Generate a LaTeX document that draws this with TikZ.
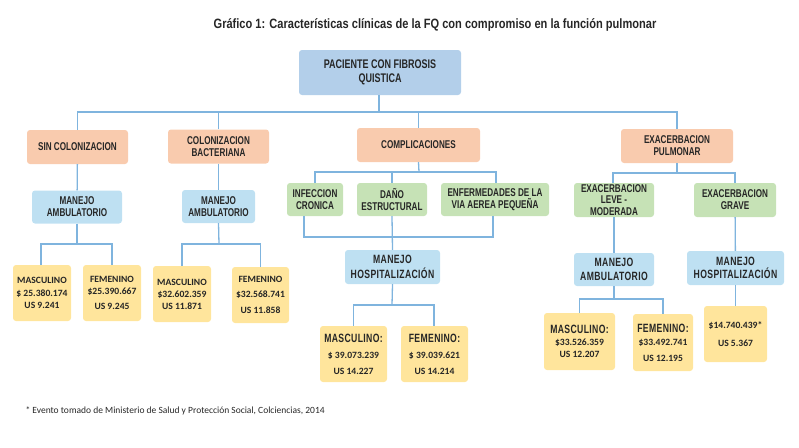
\documentclass[tikz,border=0pt]{standalone}
\usepackage{fontspec}
\setmainfont{Liberation Sans}
\newfontfamily\narf{Liberation Sans Bold}[FakeStretch=0.72]
\newfontfamily\narls{Liberation Sans Bold}[FakeStretch=0.72, LetterSpace=3]
\newfontfamily\titf{Liberation Sans Bold}[FakeStretch=0.82]
\newfontfamily\calib{Carlito}
\newfontfamily\calibb{Carlito Bold}
\newcommand\labfont{\narls\fontsize{12}{14}\selectfont}
\definecolor{rootc}{HTML}{B3CFEA}
\definecolor{peach}{HTML}{F9CBAE}
\definecolor{greenc}{HTML}{C6E2B6}
\definecolor{manc}{HTML}{BEE0F2}
\definecolor{yelc}{HTML}{FFE59C}
\definecolor{linec}{HTML}{7FB4DE}
\definecolor{txtc}{HTML}{262626}
\begin{document}
\begin{tikzpicture}[x=1pt,y=-1pt,
  box/.style={rounded corners=3pt, inner sep=1pt, align=center, text=txtc,
    font=\narf\fontsize{11.3}{11.8}\selectfont},
  rootbox/.style={box, fill=rootc, minimum width=162, minimum height=45,
    font=\narf\fontsize{12.5}{13.5}\selectfont},
  lvone/.style={box, fill=peach, minimum height=34},
  lvtwo/.style={box, fill=greenc, minimum height=33},
  manbox/.style={box, fill=manc, minimum height=33},
  manwide/.style={manbox, font=\narls\fontsize{12}{13.5}\selectfont},
  valbox/.style={box, fill=yelc, minimum height=56,
    font=\calibb\fontsize{9.6}{14}\selectfont},
  conn/.style={draw=linec, line width=1.3pt}
]
\useasboundingbox (0,0) rectangle (799,447);
% title
\node[text=txtc, font=\titf\fontsize{13.5}{15}\selectfont] (title) at (435,25)
  {Gráfico 1: Características clínicas de la FQ con compromiso en la función pulmonar};
% nodes
\node[rootbox] (root) at (380,72.5) {PACIENTE CON FIBROSIS\\QUISTICA};
\node[lvone, minimum width=101] (sincol) at (77.5,147) {SIN COLONIZACION};
\node[lvone, minimum width=101] (colbac) at (218.5,146.5) {COLONIZACION\\BACTERIANA};
\node[lvone, minimum width=123] (compl) at (418.5,145) {COMPLICACIONES};
\node[lvone, minimum width=112] (exac) at (677,146) {EXACERBACION\\PULMONAR};
\node[manbox, minimum width=90] (amb1) at (77,207) {MANEJO\\AMBULATORIO};
\node[manbox, minimum width=73] (amb2) at (218.5,206.5) {MANEJO\\AMBULATORIO};
\node[lvtwo, minimum width=56] (inf) at (315,199.5) {INFECCION\\CRONICA};
\node[lvtwo, minimum width=70] (dano) at (392,199.5) {DAÑO\\ESTRUCTURAL};
\node[lvtwo, minimum width=108] (enf) at (495,199.5) {ENFERMEDADES DE LA\\VIA AEREA PEQUEÑA};
\node[lvtwo, minimum width=80, minimum height=34] (leve) at (614,200) {EXACERBACION\\LEVE -\\MODERADA};
\node[lvtwo, minimum width=82, minimum height=34] (grave) at (735,200) {EXACERBACION\\GRAVE};
\node[manwide, minimum width=95, minimum height=34] (hosp1) at (392.5,267) {MANEJO\\[2pt]HOSPITALIZACIÓN};
\node[manwide, minimum width=80] (amb3) at (614,269.5) {MANEJO\\AMBULATORIO};
\node[manwide, minimum width=97, minimum height=34] (hosp2) at (735.5,268) {MANEJO\\HOSPITALIZACIÓN};
% value boxes
\node[valbox, minimum width=58] (m1) at (42,293) {MASCULINO\\[-1pt]\$ 25.380.174\\[-2pt]US 9.241};
\node[valbox, minimum width=58] (f1) at (112,293) {FEMENINO\\[-2pt]\$25.390.667\\[1pt]US 9.245};
\node[valbox, minimum width=58] (m2) at (182,294) {MASCULINO\\[-2pt]\$32.602.359\\[-2pt]US 11.871};
\node[valbox, minimum width=57] (f2) at (260.5,295) {FEMENINO\\[1pt]\$32.568.741\\[2pt]US 11.858};
\node[valbox, minimum width=67] (m3) at (353.5,354)
  {{\labfont MASCULINO:}\\[2pt]\$ 39.073.239\\[2pt]US 14.227};
\node[valbox, minimum width=67] (f3) at (434.5,354)
  {{\labfont FEMENINO:}\\[2pt]\$ 39.039.621\\[2pt]US 14.214};
\node[valbox, minimum width=71, minimum height=57] (m4) at (579.5,341.5)
  {{\labfont MASCULINO:}\\[-2pt]\$33.526.359\\[-2pt]US 12.207};
\node[valbox, minimum width=60, minimum height=57] (f4) at (663,342.5)
  {{\labfont FEMENINO:}\\[-1pt]\$33.492.741\\[2pt]US 12.195};
\node[valbox, minimum width=63] (g4) at (735.5,334) {\$14.740.439*\\[4pt]US 5.367};
% footnote
\node[anchor=west, text=txtc, font=\calib\fontsize{9.5}{11}\selectfont] (foot) at (22,411)
  {* Evento tomado de Ministerio de Salud y Protección Social, Colciencias, 2014};
% connectors
\coordinate (b0) at (379,112);
\draw[conn] ([xshift=-1pt]root.south) -- (b0);
\draw[conn] (sincol.north) |- (b0) -| (exac.north);
\draw[conn] (colbac.north) -- (colbac.north |- b0);
\draw[conn] (compl.north) -- (compl.north |- b0);
\draw[conn] (sincol) -- (amb1);
\draw[conn] (colbac) -- (amb2);
% complicaciones
\coordinate (b1) at (419,172);
\draw[conn] (compl.south) -- (b1);
\draw[conn] (inf.north) |- (b1) -| ([xshift=1pt]enf.north);
\draw[conn] (dano.north) -- (dano.north |- b1);
\coordinate (b2) at (392,237);
\draw[conn] ([xshift=-11pt]inf.south) |- (b2) -| ([xshift=-2pt]enf.south);
\draw[conn] (dano.south) -- (hosp1.north);
\coordinate (b3) at (392,305);
\draw[conn] (hosp1.south) -- (b3);
\draw[conn] (m3.north) |- (b3) -| ([xshift=-0.5pt]f3.north);
% exacerbacion
\coordinate (b4) at (677,173);
\draw[conn] (exac.south) -- (b4);
\draw[conn] ([xshift=-1pt]leve.north) |- (b4) -| (grave.north);
\draw[conn] (leve) -- (amb3);
\draw[conn] (grave) -- (hosp2);
\coordinate (b5) at (614,299);
\draw[conn] (amb3.south) -- (b5);
\draw[conn] (m4.north) |- (b5) -| (f4.north);
\draw[conn] (hosp2.south) -- (g4.north);
% left side
\coordinate (b6) at (77,244);
\draw[conn] (amb1.south) -- (b6);
\draw[conn] ([xshift=-1pt]m1.north) |- (b6) -| (f1.north);
\coordinate (b7) at (219,244);
\draw[conn] (amb2.south) -- (b7);
\draw[conn] (m2.north) |- (b7) -| (f2.north);
\end{tikzpicture}
\end{document}
